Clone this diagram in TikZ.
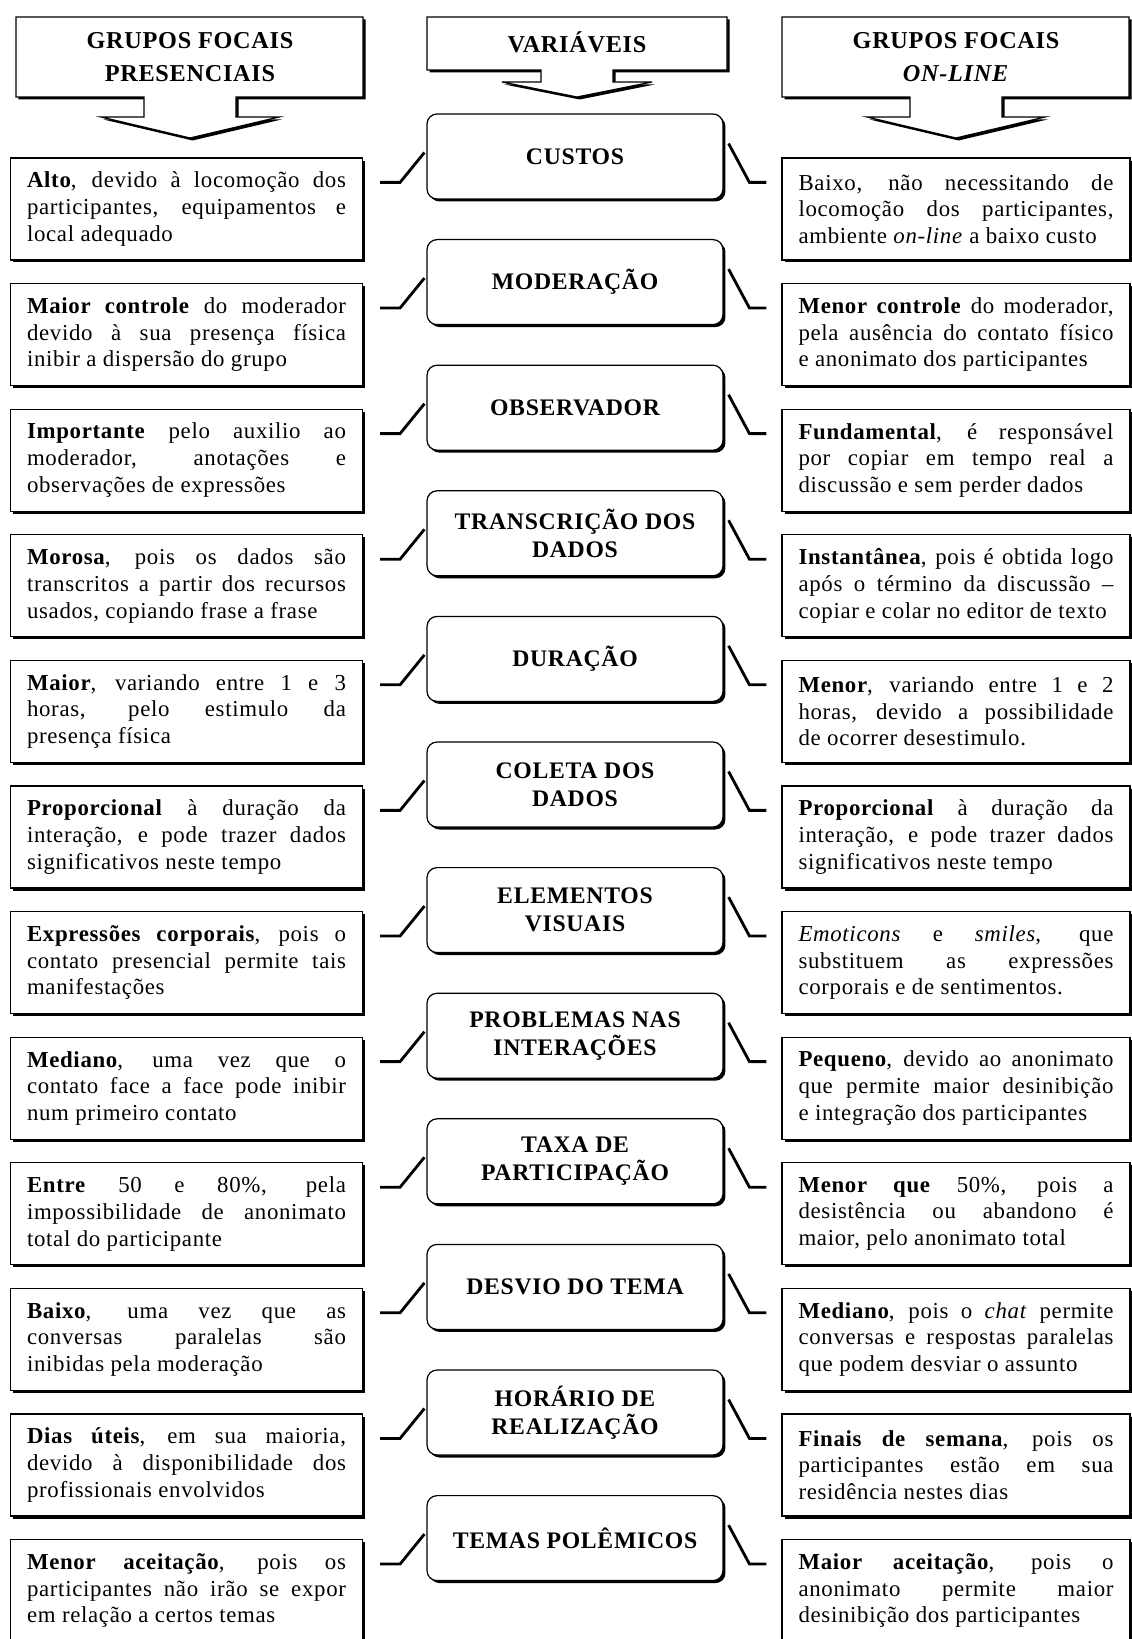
\documentclass[tikz,border=0pt]{standalone}
\usepackage{fontspec}
\setmainfont{Liberation Serif}[LetterSpace=3]
\usetikzlibrary{shadows}
\newcommand\corpo{\fontsize{13pt}{15.2pt}\selectfont\tolerance=10000\hbadness=10000\relax}
\newcommand\titulo{\fontsize{13.5pt}{16pt}\selectfont\bfseries}
\newcommand\cabeca{\fontsize{13.8pt}{18.5pt}\selectfont\bfseries}

\begin{document}
\begin{tikzpicture}[x=0.02cm, y=-0.02cm,
    sombra/.style={drop shadow={opacity=1, fill=black, shadow xshift=0.05cm, shadow yshift=-0.05cm}},
    lado/.style={draw, fill=white, sombra, line width=0.7pt, minimum height=2.04cm, inner xsep=0.33cm, inner ysep=0pt, align=justify, font=\corpo},
    esq/.style={lado, text width=6.38cm},
    dir/.style={lado, text width=6.30cm},
    var/.style={draw, fill=white, sombra, rounded corners=0.2cm, line width=0.7pt, minimum width=5.92cm, minimum height=1.7cm, inner sep=0pt, align=center, font=\titulo},
    cab/.style={align=center, inner sep=0pt, font=\cabeca},
    seta/.style={draw, fill=white, sombra, line width=0.7pt},
    elo/.style={line width=1.6pt}]
    \useasboundingbox(0, 0)rectangle(1132, 1639);
    % cabecalhos
    \draw[seta](16, 17)--(363, 17)--(363, 97)--(236, 97)--(236, 117)--(279, 117)--(190, 138)--(101, 117)--(144, 117)--(144, 97)--(16, 97)--cycle;
    \draw[seta](427, 17)--(727, 17)--(727, 70)--(613, 70)--(613, 82)--(652, 82)--(577, 97)--(502, 82)--(541, 82)--(541, 70)--(427, 70)--cycle;
    \draw[seta](782, 17)--(1129, 17)--(1129, 97)--(1002, 97)--(1002, 117)--(1045, 117)--(956, 138)--(867, 117)--(910, 117)--(910, 97)--(782, 97)--cycle;
    \node[cab](gp) at (190, 57){GRUPOS FOCAIS\\PRESENCIAIS};
    \node[cab](va) at (577, 42){VARIÁVEIS};
    \node[cab](go) at (956, 57){GRUPOS FOCAIS\\\textit{ON-LINE}};

    % variaveis
    \node[var](v1) at (575, 156.5){CUSTOS};
    \node[var](v2) at (575, 282.1){MODERAÇÃO};
    \node[var](v3) at (575, 407.7){OBSERVADOR};
    \node[var](v4) at (575, 533.3){TRANSCRIÇÃO DOS\\DADOS};
    \node[var](v5) at (575, 658.9){DURAÇÃO};
    \node[var](v6) at (575, 784.5){COLETA DOS\\DADOS};
    \node[var](v7) at (575, 910.1){ELEMENTOS\\VISUAIS};
    \node[var](v8) at (575, 1035.7){PROBLEMAS NAS\\INTERAÇÕES};
    \node[var](v9) at (575, 1161.3){TAXA DE\\PARTICIPAÇÃO};
    \node[var](v10) at (575, 1286.9){DESVIO DO TEMA};
    \node[var](v11) at (575, 1412.5){HORÁRIO DE\\REALIZAÇÃO};
    \node[var](v12) at (575, 1538.1){TEMAS POLÊMICOS};

    % presenciais
    \node[esq](e1) at (186.5, 209){\textbf{Alto}, devido à locomoção dos \linebreak participantes, equipamentos e \linebreak local adequado};
    \node[esq](e2) at (186.5, 334.6){\textbf{Maior controle} do moderador \linebreak devido à sua presença física \linebreak inibir a dispersão do grupo};
    \node[esq](e3) at (186.5, 460.2){\textbf{Importante} pelo auxilio ao \linebreak moderador, anotações e \linebreak observações de expressões};
    \node[esq](e4) at (186.5, 585.8){\textbf{Morosa}, pois os dados são \linebreak transcritos a partir dos recursos \linebreak usados, copiando frase a frase};
    \node[esq](e5) at (186.5, 711.4){\textbf{Maior}, variando entre 1 e 3 \linebreak horas, pelo estimulo da \linebreak presença física};
    \node[esq](e6) at (186.5, 837){\textbf{Proporcional} à duração da \linebreak interação, e pode trazer dados \linebreak significativos neste tempo};
    \node[esq](e7) at (186.5, 962.6){\textbf{Expressões corporais}, pois o \linebreak contato presencial permite tais \linebreak manifestações};
    \node[esq](e8) at (186.5, 1088.2){\textbf{Mediano}, uma vez que o \linebreak contato face a face pode inibir \linebreak num primeiro contato};
    \node[esq](e9) at (186.5, 1213.8){\textbf{Entre} 50 e 80\%, pela \linebreak impossibilidade de anonimato \linebreak total do participante};
    \node[esq](e10) at (186.5, 1339.4){\textbf{Baixo}, uma vez que as \linebreak conversas paralelas são \linebreak inibidas pela moderação};
    \node[esq](e11) at (186.5, 1465){\textbf{Dias úteis}, em sua maioria, \linebreak devido à disponibilidade dos \linebreak profissionais envolvidos};
    \node[esq](e12) at (186.5, 1590.6){\textbf{Menor aceitação}, pois os \linebreak participantes não irão se expor \linebreak em relação a certos temas};

    % on-line
    \node[dir](d1) at (956, 209){Baixo, não necessitando de \linebreak locomoção dos participantes, \linebreak ambiente \textit{on-line} a baixo custo};
    \node[dir](d2) at (956, 334.6){\textbf{Menor controle} do moderador, \linebreak pela ausência do contato físico \linebreak e anonimato dos participantes};
    \node[dir](d3) at (956, 460.2){\textbf{Fundamental}, é responsável \linebreak por copiar em tempo real a \linebreak discussão e sem perder dados};
    \node[dir](d4) at (956, 585.8){\textbf{Instantânea}, pois é obtida logo \linebreak após o término da discussão -- \linebreak copiar e colar no editor de texto};
    \node[dir](d5) at (956, 711.4){\textbf{Menor}, variando entre 1 e 2 \linebreak horas, devido a possibilidade \linebreak de ocorrer desestimulo.};
    \node[dir](d6) at (956, 837){\textbf{Proporcional} à duração da \linebreak interação, e pode trazer dados \linebreak significativos neste tempo};
    \node[dir](d7) at (956, 962.6){\textit{Emoticons} e \textit{smiles}, que \linebreak substituem as expressões \linebreak corporais e de sentimentos.};
    \node[dir](d8) at (956, 1088.2){\textbf{Pequeno}, devido ao anonimato \linebreak que permite maior desinibição \linebreak e integração dos participantes};
    \node[dir](d9) at (956, 1213.8){\textbf{Menor que} 50\%, pois a \linebreak desistência ou abandono é \linebreak maior, pelo anonimato total};
    \node[dir](d10) at (956, 1339.4){\textbf{Mediano}, pois o \textit{chat} permite \linebreak conversas e respostas paralelas \linebreak que podem desviar o assunto};
    \node[dir](d11) at (956, 1465){\textbf{Finais de semana}, pois os \linebreak participantes estão em sua \linebreak residência nestes dias};
    \node[dir](d12) at (956, 1590.6){\textbf{Maior aceitação}, pois o \linebreak anonimato permite maior \linebreak desinibição dos participantes};

    % ligacoes
    \draw[elo]([shift={(17, 25)}]e1.north east)--++(20, 0)--([shift={(-2, -4)}]v1.west);
    \draw[elo]([shift={(5, -13)}]v1.east)--([shift={(-32, 25)}]d1.north west)--++(17, 0);
    \draw[elo]([shift={(17, 25)}]e2.north east)--++(20, 0)--([shift={(-2, -4)}]v2.west);
    \draw[elo]([shift={(5, -13)}]v2.east)--([shift={(-32, 25)}]d2.north west)--++(17, 0);
    \draw[elo]([shift={(17, 25)}]e3.north east)--++(20, 0)--([shift={(-2, -4)}]v3.west);
    \draw[elo]([shift={(5, -13)}]v3.east)--([shift={(-32, 25)}]d3.north west)--++(17, 0);
    \draw[elo]([shift={(17, 25)}]e4.north east)--++(20, 0)--([shift={(-2, -4)}]v4.west);
    \draw[elo]([shift={(5, -13)}]v4.east)--([shift={(-32, 25)}]d4.north west)--++(17, 0);
    \draw[elo]([shift={(17, 25)}]e5.north east)--++(20, 0)--([shift={(-2, -4)}]v5.west);
    \draw[elo]([shift={(5, -13)}]v5.east)--([shift={(-32, 25)}]d5.north west)--++(17, 0);
    \draw[elo]([shift={(17, 25)}]e6.north east)--++(20, 0)--([shift={(-2, -4)}]v6.west);
    \draw[elo]([shift={(5, -13)}]v6.east)--([shift={(-32, 25)}]d6.north west)--++(17, 0);
    \draw[elo]([shift={(17, 25)}]e7.north east)--++(20, 0)--([shift={(-2, -4)}]v7.west);
    \draw[elo]([shift={(5, -13)}]v7.east)--([shift={(-32, 25)}]d7.north west)--++(17, 0);
    \draw[elo]([shift={(17, 25)}]e8.north east)--++(20, 0)--([shift={(-2, -4)}]v8.west);
    \draw[elo]([shift={(5, -13)}]v8.east)--([shift={(-32, 25)}]d8.north west)--++(17, 0);
    \draw[elo]([shift={(17, 25)}]e9.north east)--++(20, 0)--([shift={(-2, -4)}]v9.west);
    \draw[elo]([shift={(5, -13)}]v9.east)--([shift={(-32, 25)}]d9.north west)--++(17, 0);
    \draw[elo]([shift={(17, 25)}]e10.north east)--++(20, 0)--([shift={(-2, -4)}]v10.west);
    \draw[elo]([shift={(5, -13)}]v10.east)--([shift={(-32, 25)}]d10.north west)--++(17, 0);
    \draw[elo]([shift={(17, 25)}]e11.north east)--++(20, 0)--([shift={(-2, -4)}]v11.west);
    \draw[elo]([shift={(5, -13)}]v11.east)--([shift={(-32, 25)}]d11.north west)--++(17, 0);
    \draw[elo]([shift={(17, 25)}]e12.north east)--++(20, 0)--([shift={(-2, -4)}]v12.west);
    \draw[elo]([shift={(5, -13)}]v12.east)--([shift={(-32, 25)}]d12.north west)--++(17, 0);
\end{tikzpicture}
\end{document}
